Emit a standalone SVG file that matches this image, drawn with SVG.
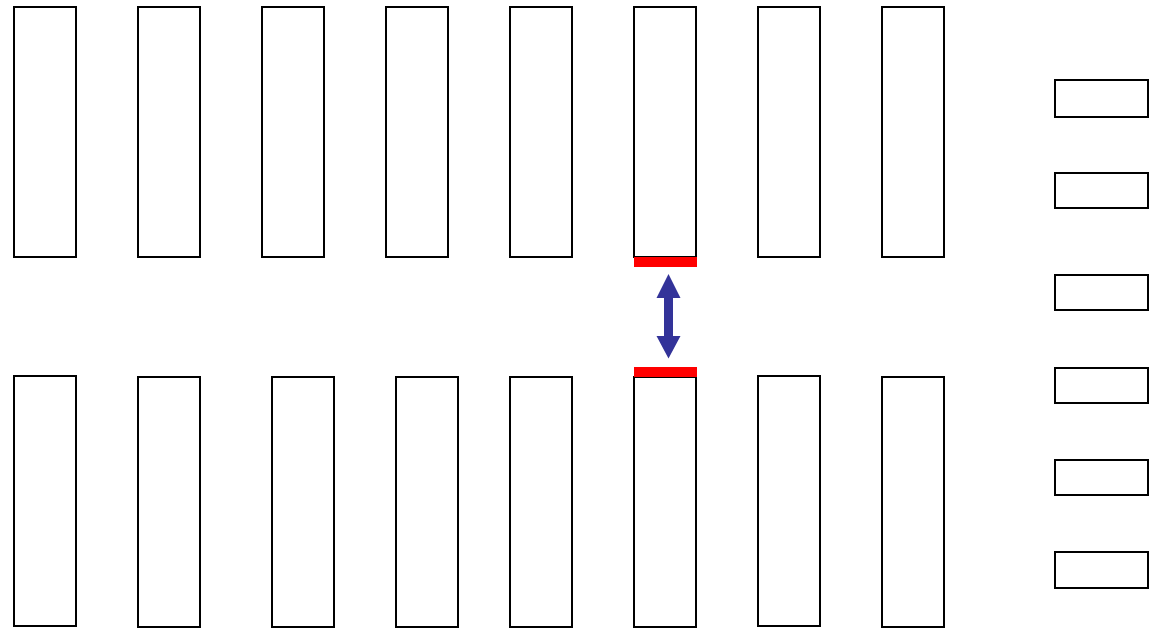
<svg xmlns="http://www.w3.org/2000/svg" width="1150" height="628" viewBox="0 0 1150 628">
<style>
.box{fill:#fff;stroke:#000;stroke-width:2}
.red{fill:#ff0000}
.arr{fill:#333399}
</style>
<rect width="1150" height="628" fill="#fff"/>
<g id="top-row">
<rect id="t1" class="box" x="14" y="7" width="62" height="250"/>
<rect id="t2" class="box" x="138" y="7" width="62" height="250"/>
<rect id="t3" class="box" x="262" y="7" width="62" height="250"/>
<rect id="t4" class="box" x="386" y="7" width="62" height="250"/>
<rect id="t5" class="box" x="510" y="7" width="62" height="250"/>
<rect id="t6" class="box" x="634" y="7" width="62" height="250"/>
<rect id="t7" class="box" x="758" y="7" width="62" height="250"/>
<rect id="t8" class="box" x="882" y="7" width="62" height="250"/>
</g>
<g id="bottom-row">
<rect id="b1" class="box" x="14" y="376" width="62" height="250"/>
<rect id="b2" class="box" x="138" y="377" width="62" height="250"/>
<rect id="b3" class="box" x="272" y="377" width="62" height="250"/>
<rect id="b4" class="box" x="396" y="377" width="62" height="250"/>
<rect id="b5" class="box" x="510" y="377" width="62" height="250"/>
<rect id="b6" class="box" x="634" y="377" width="62" height="250"/>
<rect id="b7" class="box" x="758" y="376" width="62" height="250"/>
<rect id="b8" class="box" x="882" y="377" width="62" height="250"/>
</g>
<g id="side-boxes">
<rect id="s1" class="box" x="1055" y="80" width="93" height="37"/>
<rect id="s2" class="box" x="1055" y="173" width="93" height="35"/>
<rect id="s3" class="box" x="1055" y="275" width="93" height="35"/>
<rect id="s4" class="box" x="1055" y="368" width="93" height="35"/>
<rect id="s5" class="box" x="1055" y="460" width="93" height="35"/>
<rect id="s6" class="box" x="1055" y="552" width="93" height="36"/>
</g>
<g id="markers">
<rect class="red" x="634" y="257" width="63" height="10"/>
<rect class="red" x="634" y="367" width="63" height="10"/>
</g>
<g id="connectors">
<polygon class="arr" points="668.5,274 680.5,298 673,298 673,336 680.5,336 668.5,358.5 656.5,336 664,336 664,298 656.5,298"/>
</g>
</svg>
